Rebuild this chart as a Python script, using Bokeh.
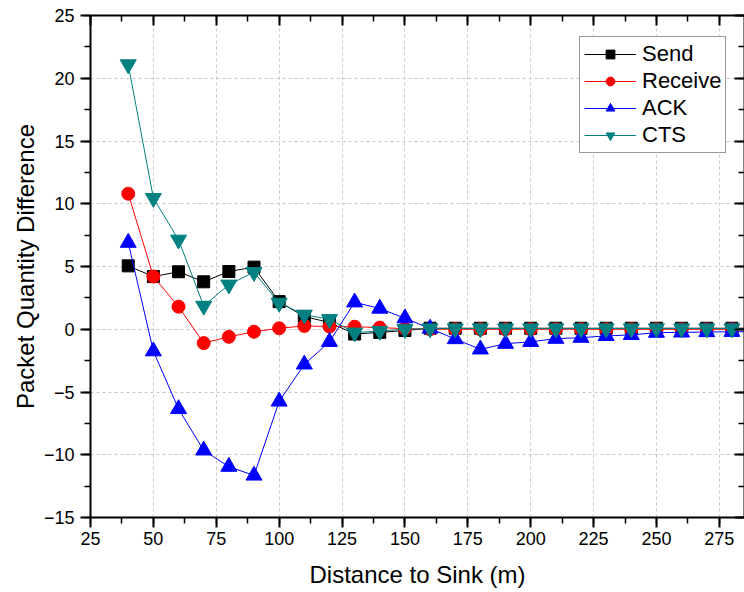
from bokeh.plotting import figure
from bokeh.models import (LinearAxis, SingleIntervalTicker, Range1d, Legend, LegendItem,
                          CustomJSTickFormatter)
from bokeh.embed import file_html
from bokeh.resources import INLINE

distance = [40, 50, 60, 70, 80, 90, 100, 110, 120, 130, 140, 150, 160, 170, 180,
            190, 200, 210, 220, 230, 240, 250, 260, 270, 280, 290]
send = [5.05, 4.2, 4.58, 3.78, 4.6, 4.95, 2.2, 1.0, 0.55, -0.38, -0.25, -0.1, 0.08, 0.08, 0.08,
        0.08, 0.08, 0.08, 0.08, 0.08, 0.08, 0.08, 0.08, 0.08, 0.08, 0.08]
receive = [10.8, 4.2, 1.8, -1.1, -0.6, -0.2, 0.08, 0.26, 0.22, 0.2, 0.13, 0.05, 0.0, 0.0, 0.0,
           0.0, 0.0, 0.0, 0.0, 0.0, 0.0, 0.0, 0.0, 0.0, 0.0, 0.0]
ack = [6.9, -1.75, -6.35, -9.65, -10.95, -11.65, -5.75, -2.8, -1.0, 2.15, 1.65, 0.88, 0.06, -0.78, -1.6,
       -1.15, -1.0, -0.75, -0.67, -0.53, -0.45, -0.27, -0.25, -0.22, -0.2, -0.19]
cts = [21.1, 10.45, 7.13, 1.86, 3.55, 4.55, 2.1, 1.15, 0.8, -0.27, -0.14, 0.0, 0.06, 0.06, 0.06,
       0.06, 0.06, 0.06, 0.06, 0.06, 0.06, 0.06, 0.06, 0.06, 0.06, 0.06]

FONT = "Liberation Sans"

p = figure(width=744, height=592, output_backend="svg", toolbar_location=None,
           x_range=Range1d(25, 285), y_range=Range1d(-15, 25),
           min_border_left=90, min_border_top=15, min_border_right=0, min_border_bottom=75)
p.outline_line_color = None
p.background_fill_color = "white"

xt = SingleIntervalTicker(interval=25, num_minor_ticks=2)
yt = SingleIntervalTicker(interval=5, num_minor_ticks=2)

def style_axis(ax, ticker, inward, show_labels):
    ax.ticker = ticker
    ax.axis_line_width = 2
    ax.axis_line_color = "black"
    ax.major_tick_line_width = 2
    ax.minor_tick_line_width = 1.5
    ax.major_tick_line_color = "black"
    ax.minor_tick_line_color = "black"
    if inward:
        ax.major_tick_in = 10
        ax.major_tick_out = 0
        ax.minor_tick_in = 6
        ax.minor_tick_out = 0
    else:
        ax.major_tick_in = 0
        ax.major_tick_out = 10
        ax.minor_tick_in = 0
        ax.minor_tick_out = 6
    if show_labels:
        ax.major_label_text_font = FONT
        ax.major_label_text_font_size = "18px"
        ax.major_label_text_color = "black"
        ax.axis_label_text_font = FONT
        ax.axis_label_text_font_size = "24px"
        ax.axis_label_text_font_style = "normal"
        ax.axis_label_text_color = "black"
    else:
        ax.formatter = CustomJSTickFormatter(code="return ''")
        ax.major_label_standoff = 0

style_axis(p.xaxis[0], xt, False, True)
style_axis(p.yaxis[0], yt, False, True)
p.xaxis[0].axis_label = "Distance to Sink (m)"
p.yaxis[0].axis_label = "Packet Quantity Difference"
p.xaxis[0].major_label_standoff = 4
p.yaxis[0].major_label_standoff = 6
p.xaxis[0].axis_label_standoff = 13
p.yaxis[0].axis_label_standoff = 2

top = LinearAxis()
style_axis(top, SingleIntervalTicker(interval=25, num_minor_ticks=2), True, False)
p.add_layout(top, "above")
right = LinearAxis()
style_axis(right, SingleIntervalTicker(interval=5, num_minor_ticks=2), True, False)
p.add_layout(right, "right")

for g in (p.xgrid, p.ygrid):
    g.grid_line_color = "#c8c8c8"
    g.grid_line_dash = "3 3"
    g.grid_line_width = 1
p.xgrid.ticker = xt
p.ygrid.ticker = yt

items = []
l1 = p.line(distance, send, line_color="black", line_width=1)
m1 = p.scatter(distance, send, marker="square", size=12, fill_color="black", line_color="black")
items.append(LegendItem(label="Send", renderers=[l1, m1]))
l2 = p.line(distance, receive, line_color="red", line_width=1)
m2 = p.scatter(distance, receive, marker="circle", size=13, fill_color="red", line_color="red")
items.append(LegendItem(label="Receive", renderers=[l2, m2]))
l3 = p.line(distance, ack, line_color="blue", line_width=1)
m3 = p.scatter(distance, ack, marker="triangle", size=16, fill_color="blue", line_color="blue")
items.append(LegendItem(label="ACK", renderers=[l3, m3]))
l4 = p.line(distance, cts, line_color="#008080", line_width=1)
m4 = p.scatter(distance, cts, marker="inverted_triangle", size=16, fill_color="#008080", line_color="#008080")
items.append(LegendItem(label="CTS", renderers=[l4, m4]))

legend = Legend(items=items, location=(489, 364))
legend.label_text_font = FONT
legend.label_text_font_size = "22px"
legend.label_text_color = "black"
legend.glyph_width = 52
legend.glyph_height = 22
legend.label_height = 22
legend.label_standoff = 6
legend.spacing = 1
legend.padding = 4
legend.margin = 0
legend.border_line_color = "#333333"
legend.border_line_width = 1
legend.background_fill_alpha = 1
p.add_layout(legend, "center")

open("out.html", "w").write(file_html(p, INLINE))
